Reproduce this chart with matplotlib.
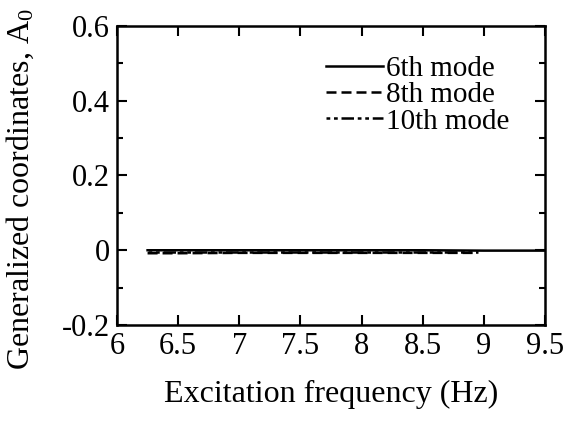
import matplotlib.pyplot as plt
from matplotlib.ticker import MultipleLocator

plt.rcParams['font.family'] = ['Liberation Serif', 'DejaVu Serif']
plt.rcParams['mathtext.fontset'] = 'custom'
plt.rcParams['mathtext.rm'] = 'Liberation Serif'

# frequency sweep (Hz) and generalized coordinate A0 per mode
freq_6 = [6.25, 6.5, 7.0, 7.5, 8.0, 8.5, 9.0, 9.5]
a0_6 = [0.0, 0.0, 0.0, 0.0, 0.0, 0.0, -0.001, -0.001]
freq_8 = [6.25, 6.5, 7.0, 7.5, 8.0, 8.5, 8.95]
a0_8 = [-0.008, -0.008, -0.007, -0.007, -0.007, -0.007, -0.007]
freq_10 = [6.25, 6.5, 7.0, 7.5, 8.0, 8.5, 8.95]
a0_10 = [-0.004, -0.004, -0.004, -0.004, -0.004, -0.004, -0.004]

fig = plt.figure(figsize=(5.63, 4.23), dpi=100)
ax = fig.add_axes([117 / 563, 1 - 325 / 423, 428 / 563, 299 / 423])

ax.plot(freq_6, a0_6, 'k-', lw=1.8, label='6th mode')
ax.plot(freq_8, a0_8, 'k', ls=(0, (4, 2)), lw=1.8, label='8th mode')
ax.plot(freq_10, a0_10, 'k', ls=(0, (1.5, 1.5, 1.5, 1.5, 5, 1.5)), lw=1.8, label='10th mode')

ax.set_xlim(6, 9.5)
ax.set_ylim(-0.2, 0.6)
ax.yaxis.set_minor_locator(MultipleLocator(0.1))
ax.set_xticks([6, 6.5, 7, 7.5, 8, 8.5, 9, 9.5])
ax.set_xticklabels(['6', '6.5', '7', '7.5', '8', '8.5', '9', '9.5'])
ax.set_yticks([-0.2, 0, 0.2, 0.4, 0.6])
ax.set_yticklabels(['-0.2', '0', '0.2', '0.4', '0.6'])

ax.tick_params(which='both', direction='in', top=True, right=True, width=1.5, labelsize=22)
ax.tick_params(which='major', length=7, pad=5)
ax.tick_params(which='minor', length=4)
for s in ax.spines.values():
    s.set_linewidth(1.8)

ax.set_xlabel('Excitation frequency (Hz)', fontsize=23)
ax.set_ylabel(r'Generalized coordinates, $\mathregular{A_0}$', fontsize=23)
ax.xaxis.set_label_coords(0.5, -0.185)
ax.yaxis.set_label_coords(-0.189, 0.455)

ax.legend(loc='upper left', bbox_to_anchor=(0.44, 0.97), frameon=False, fontsize=21,
          handlelength=1.95, handletextpad=0.1, labelspacing=0.0, borderpad=0.2)

fig.savefig('out.png', dpi=100)
